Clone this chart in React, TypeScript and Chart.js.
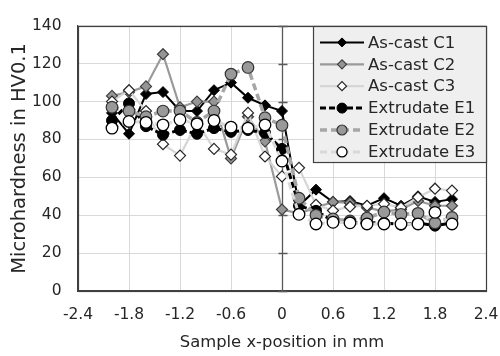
import React, { useEffect, useRef } from "react";
import { Chart, registerables } from "chart.js";

Chart.register(...registerables);

// x-positions of the measurement points (mm)
const positions = [-2.0, -1.8, -1.6, -1.4, -1.2, -1.0, -0.8, -0.6, -0.4, -0.2, 0, 0.2, 0.4, 0.6, 0.8, 1.0, 1.2, 1.4, 1.6, 1.8, 2.0];

const seriesNames = ["As-cast C1", "As-cast C2", "As-cast C3", "Extrudate E1", "Extrudate E2", "Extrudate E3"];

const castC1 = [94, 83, 104, 105, 95, 95, 106, 110, 102, 98, 95, 45, 53.5, 47, 47.5, 45, 49, 45, 50, 47, 48.5];
const castC2 = [103, 105, 108, 125, 97, 100, 100, 70, 92, 79, 43, 41, 44, 47, 46.5, 44, 42, 43, 47.5, 45, 45];
const castC3 = [100, 106, 95, 77.5, 71.5, 89, 75, 72, 94, 71, 60.5, 65, 45.5, 42.5, 44.5, 45, 46, 44, 49.5, 54, 53];
const extE1 = [90, 99, 87, 82.5, 85, 83, 86, 84, 85, 83.5, 75, 45, 42.3, 37, 36, 36, 36, 35, 36, 34.5, 36];
const extE2 = [97, 95, 92, 95, 95, 89, 95, 114.5, 118, 91.5, 87.5, 49, 40, 38, 37, 38.5, 41.7, 40.5, 41, 36, 38.8];
const extE3 = [86, 89.5, 89, 87.7, 90.4, 88.2, 90, 86.5, 86, 87.7, 68.6, 40.5, 35.4, 36.3, 36, 35.4, 35.4, 35.4, 35.4, 41.5, 35.4];

const xTicks = [-2.4, -1.8, -1.2, -0.6, 0, 0.6, 1.2, 1.8, 2.4];
const yTicks = [0, 20, 40, 60, 80, 100, 120, 140];

const xTitle = "Sample x-position in mm";
const yTitle = "Microhardness in HV0.1";

const FONT = "'DejaVu Sans', 'Liberation Sans', Arial, sans-serif";
const TEXT = "#262626";

const toPoints = (vals: number[]) => vals.map((v, i) => ({ x: positions[i], y: v }));

const frameAndZeroAxis = {
  id: "frameAndZeroAxis",
  beforeDatasetsDraw(chart: any) {
    const { ctx, chartArea: a, scales } = chart;
    const px = Math.round(scales.x.getPixelForValue(0)) + 0.5;
    ctx.save();
    ctx.strokeStyle = "#404040";
    ctx.lineWidth = 1.2;
    ctx.strokeRect(Math.round(a.left) + 0.5, Math.round(a.top) + 0.5, Math.round(a.width), Math.round(a.height));
    ctx.strokeStyle = "#595959";
    ctx.lineWidth = 1.3;
    ctx.beginPath();
    ctx.moveTo(px, a.top);
    ctx.lineTo(px, a.bottom);
    yTicks.forEach((v) => {
      const py = Math.round(scales.y.getPixelForValue(v)) + 0.5;
      ctx.moveTo(px - 4, py);
      ctx.lineTo(px + 5, py);
    });
    ctx.stroke();
    ctx.restore();
  },
};

function drawMarker(ctx: CanvasRenderingContext2D, style: string, x: number, y: number, r: number) {
  ctx.beginPath();
  if (style === "rectRot") {
    ctx.moveTo(x - r, y);
    ctx.lineTo(x, y - r);
    ctx.lineTo(x + r, y);
    ctx.lineTo(x, y + r);
    ctx.closePath();
  } else {
    ctx.arc(x, y, r, 0, Math.PI * 2);
  }
  ctx.fill();
  ctx.stroke();
}

const insideLegend = {
  id: "insideLegend",
  afterDraw(chart: any) {
    const { ctx, chartArea: a } = chart;
    const w = 173;
    const h = 136;
    const left = a.right - w;
    const top = a.top;
    ctx.save();
    ctx.fillStyle = "#efefef";
    ctx.fillRect(left, top, w, h);
    ctx.strokeStyle = "#404040";
    ctx.lineWidth = 1.2;
    ctx.strokeRect(Math.round(left) + 0.5, Math.round(top) + 0.5, w, h);
    chart.data.datasets.forEach((ds: any, i: number) => {
      const cy = top + 16.6 + i * 21.9;
      ctx.save();
      ctx.strokeStyle = ds.borderColor;
      ctx.lineWidth = ds.borderWidth;
      ctx.setLineDash(ds.borderDash || []);
      ctx.beginPath();
      ctx.moveTo(left + 7, cy);
      ctx.lineTo(left + 51, cy);
      ctx.stroke();
      ctx.setLineDash([]);
      ctx.fillStyle = ds.pointBackgroundColor;
      ctx.strokeStyle = ds.pointBorderColor;
      ctx.lineWidth = ds.pointBorderWidth;
      drawMarker(ctx, ds.pointStyle, left + 29, cy, ds.pointStyle === "rectRot" ? 4.5 : 5);
      ctx.restore();
      ctx.fillStyle = TEXT;
      ctx.font = `16.5px ${FONT}`;
      ctx.textAlign = "left";
      ctx.textBaseline = "middle";
      ctx.fillText(ds.label, left + 55, cy + 1);
    });
    ctx.restore();
  },
};

export default function App() {
  const canvasRef = useRef<HTMLCanvasElement | null>(null);

  useEffect(() => {
    if (!canvasRef.current) return;
    const datasets = [
      {
        label: seriesNames[0], data: toPoints(castC1), order: 5,
        borderColor: "#000000", borderWidth: 2, borderDash: [],
        pointStyle: "rectRot", pointRadius: 5.5, pointBackgroundColor: "#000000", pointBorderColor: "#000000", pointBorderWidth: 1,
      },
      {
        label: seriesNames[1], data: toPoints(castC2), order: 4,
        borderColor: "#9a9a9a", borderWidth: 2.2, borderDash: [],
        pointStyle: "rectRot", pointRadius: 5.5, pointBackgroundColor: "#959595", pointBorderColor: "#404040", pointBorderWidth: 1.2,
      },
      {
        label: seriesNames[2], data: toPoints(castC3), order: 3,
        borderColor: "#d6d6d6", borderWidth: 2.2, borderDash: [],
        pointStyle: "rectRot", pointRadius: 5.5, pointBackgroundColor: "#ffffff", pointBorderColor: "#262626", pointBorderWidth: 1.2,
      },
      {
        label: seriesNames[3], data: toPoints(extE1), order: 2,
        borderColor: "#000000", borderWidth: 3, borderDash: [6, 3],
        pointStyle: "circle", pointRadius: 5.5, pointBackgroundColor: "#000000", pointBorderColor: "#000000", pointBorderWidth: 1,
      },
      {
        label: seriesNames[4], data: toPoints(extE2), order: 1,
        borderColor: "#a6a6a6", borderWidth: 3.5, borderDash: [7, 4],
        pointStyle: "circle", pointRadius: 5.8, pointBackgroundColor: "#999999", pointBorderColor: "#333333", pointBorderWidth: 1.2,
      },
      {
        label: seriesNames[5], data: toPoints(extE3), order: 0,
        borderColor: "#d9d9d9", borderWidth: 3, borderDash: [7, 4],
        pointStyle: "circle", pointRadius: 5.8, pointBackgroundColor: "#ffffff", pointBorderColor: "#000000", pointBorderWidth: 1.3,
      },
    ];

    const chart = new Chart(canvasRef.current, {
      type: "line",
      data: { datasets: datasets as any },
      options: {
        responsive: false,
        animation: false,
        devicePixelRatio: 1,
        layout: { padding: { top: 17, right: 14, left: 0, bottom: 0 } },
        elements: { line: { tension: 0 } },
        plugins: { legend: { display: false }, tooltip: { enabled: false } },
        scales: {
          x: {
            type: "linear",
            min: -2.4,
            max: 2.4,
            afterBuildTicks: (s: any) => { s.ticks = xTicks.map((v) => ({ value: v })); },
            afterFit: (s: any) => { s.height = 65; s.paddingLeft = 0; s.paddingRight = 0; },
            ticks: {
              callback: (v: any) => (Math.abs(Number(v)) < 1e-9 ? "0" : Number(v).toFixed(1)),
              font: { family: FONT, size: 15.5 },
              color: TEXT,
              padding: 15,
              maxRotation: 0,
              autoSkip: false,
            },
            grid: { color: "#d9d9d9", lineWidth: 1, drawTicks: false },
            border: { display: true, color: "#404040", width: 1.2 },
            title: {
              display: true,
              text: xTitle,
              color: TEXT,
              font: { family: FONT, size: 16.4 },
              padding: { top: 0, bottom: 3.5 },
            },
          },
          y: {
            type: "linear",
            min: 0,
            max: 140,
            afterBuildTicks: (s: any) => { s.ticks = yTicks.map((v) => ({ value: v })); },
            afterFit: (s: any) => { s.width = 78; },
            ticks: {
              callback: (v: any) => String(v),
              font: { family: FONT, size: 15.5 },
              color: TEXT,
              padding: 16.5,
            },
            grid: { color: "#d9d9d9", lineWidth: 1, drawTicks: false },
            border: { display: true, color: "#404040", width: 1.2 },
            title: {
              display: true,
              text: yTitle,
              color: TEXT,
              font: { family: FONT, size: 19.5 },
              padding: { top: 8, bottom: 0 },
            },
          },
        },
      },
      plugins: [frameAndZeroAxis, insideLegend],
    });
    return () => chart.destroy();
  }, []);

  return (
    <div style={{ position: "absolute", left: 0, top: 0, width: 500, height: 356, background: "#ffffff" }}>
      <canvas ref={canvasRef} width={500} height={356} style={{ width: 500, height: 356, display: "block" }} />
    </div>
  );
}
